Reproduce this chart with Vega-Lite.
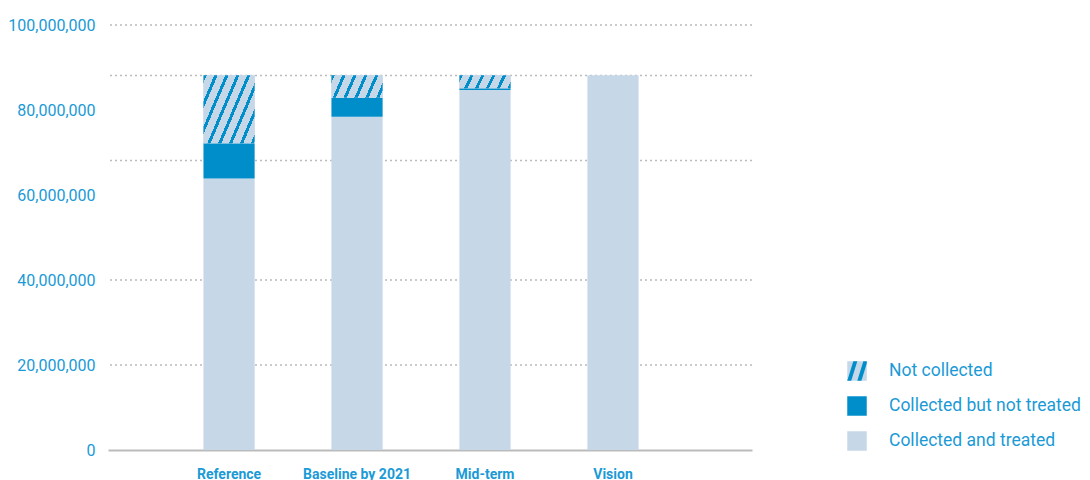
{
  "$schema": "https://vega.github.io/schema/vega-lite/v6.json",
  "width": 644,
  "height": 425,
  "autosize": "none",
  "padding": {"left": 108, "top": 25, "right": 338, "bottom": 30},
  "config": {
    "view": {"stroke": null},
    "font": "Roboto",
    "axisY": {"labelColor": "#1b9ad6", "labelFontSize": 16, "domain": false, "ticks": false, "grid": false, "labelPadding": 13, "tickCount": 5, "format": ",d", "labelFont": "Roboto"},
    "axisX": {"labelColor": "#1b9ad6", "labelFontSize": 14, "labelFontWeight": "bold", "domainColor": "#bbbbbb", "domainWidth": 2, "ticks": false, "labelPadding": 17, "labelAngle": 0, "grid": false, "labelFont": "Roboto"},
    "legend": {"orient": "none", "legendX": 739, "legendY": 336, "symbolType": "square", "symbolSize": 380, "labelFontSize": 17.5, "labelColor": "#1b9ad6", "labelOffset": 22, "rowPadding": 15, "symbolStrokeWidth": 0, "labelFont": "Roboto", "labelLimit": 400}
  },
  "datasets": {
    "bars": [
      {"category": "Reference", "segment": "Collected and treated", "value": 63900000},
      {"category": "Reference", "segment": "Collected but not treated", "value": 8300000},
      {"category": "Reference", "segment": "Not collected", "value": 16000000},
      {"category": "Baseline by 2021", "segment": "Collected and treated", "value": 78400000},
      {"category": "Baseline by 2021", "segment": "Collected but not treated", "value": 4500000},
      {"category": "Baseline by 2021", "segment": "Not collected", "value": 5300000},
      {"category": "Mid-term", "segment": "Collected and treated", "value": 84700000},
      {"category": "Mid-term", "segment": "Collected but not treated", "value": 400000},
      {"category": "Mid-term", "segment": "Not collected", "value": 3100000},
      {"category": "Vision", "segment": "Collected and treated", "value": 88200000}
    ],
    "grid": [
      {"value": 20000000},
      {"value": 40000000},
      {"value": 68100000},
      {"value": 88100000},
      {"value": 100000000}
    ]
  },
  "layer": [
    {
      "data": {"name": "grid"},
      "mark": {"type": "rule", "color": "#bbbbbb", "strokeDash": [2, 3], "strokeWidth": 1.5},
      "encoding": {
        "y": {"field": "value", "type": "quantitative", "title": null, "scale": {"domain": [0, 100000000], "nice": false}}
      }
    },
    {
      "data": {"name": "bars"},
      "mark": {"type": "bar"},
      "encoding": {
        "x": {"field": "category", "type": "nominal", "title": null, "scale": {"domain": ["Reference", "Baseline by 2021", "Mid-term", "Vision"], "paddingInner": 0.6, "paddingOuter": 0.816, "align": 0.457}},
        "y": {"field": "value", "type": "quantitative", "stack": "zero", "title": null, "scale": {"domain": [0, 100000000], "nice": false}},
        "color": {"field": "segment", "type": "nominal", "title": null,
          "scale": {"domain": ["Not collected", "Collected but not treated", "Collected and treated"], "range": ["#c6d7e8", "#008ecb", "#c6d7e8"]}},
        "order": {"field": "segment", "sort": "ascending"}
      }
    },
    {
      "data": {"name": "bars"},
      "mark": {"type": "point", "filled": true, "opacity": 0, "color": "#008ecb"},
      "encoding": {
        "x": {"field": "category", "type": "nominal", "title": null, "scale": {"domain": ["Reference", "Baseline by 2021", "Mid-term", "Vision"]}},
        "y": {"field": "value", "type": "quantitative", "title": null, "scale": {"domain": [0, 100000000], "nice": false}},
        "shape": {"field": "segment", "type": "nominal", "title": null,
          "scale": {"domain": ["Not collected", "_a", "_b"], "range": ["M-1,1 L-0.59,1 L0.03,-1 L-0.38,-1 Z M0.03,1 L0.45,1 L1,-0.77 L1,-1 L0.65,-1 Z", "M0,0", "M0,0"]},
          "legend": {"labelExpr": "''", "labelOpacity": 0, "symbolOpacity": 1, "symbolFillColor": "#008ecb", "symbolStrokeWidth": 0}}
      }
    },
    {
      "data": {"name": "bars"},
      "transform": [
        {"stack": "value", "groupby": ["category"], "sort": [{"field": "segment", "order": "ascending"}], "as": ["v0", "v1"]},
        {"filter": {"field": "segment", "equal": "Not collected"}},
        {"filter": {"field": "category", "equal": "Reference"}}
      ],
      "mark": {"type": "bar", "fill": {"gradient": "linear", "x1": 0, "y1": 0, "x2": 1.186, "y2": 0.670, "stops": [
        {"offset": 0, "color": "#008ecb"}, {"offset": 0.041, "color": "#008ecb"}, {"offset": 0.041, "color": "#c6d7e8"}, {"offset": 0.136, "color": "#c6d7e8"},
        {"offset": 0.136, "color": "#008ecb"}, {"offset": 0.177, "color": "#008ecb"}, {"offset": 0.177, "color": "#c6d7e8"}, {"offset": 0.272, "color": "#c6d7e8"},
        {"offset": 0.272, "color": "#008ecb"}, {"offset": 0.313, "color": "#008ecb"}, {"offset": 0.313, "color": "#c6d7e8"}, {"offset": 0.409, "color": "#c6d7e8"},
        {"offset": 0.409, "color": "#008ecb"}, {"offset": 0.45, "color": "#008ecb"}, {"offset": 0.45, "color": "#c6d7e8"}, {"offset": 0.545, "color": "#c6d7e8"},
        {"offset": 0.545, "color": "#008ecb"}, {"offset": 0.586, "color": "#008ecb"}, {"offset": 0.586, "color": "#c6d7e8"}, {"offset": 0.681, "color": "#c6d7e8"},
        {"offset": 0.681, "color": "#008ecb"}, {"offset": 0.722, "color": "#008ecb"}, {"offset": 0.722, "color": "#c6d7e8"}, {"offset": 0.817, "color": "#c6d7e8"},
        {"offset": 0.817, "color": "#008ecb"}, {"offset": 0.858, "color": "#008ecb"}, {"offset": 0.858, "color": "#c6d7e8"}, {"offset": 0.953, "color": "#c6d7e8"},
        {"offset": 0.953, "color": "#008ecb"}, {"offset": 0.994, "color": "#008ecb"}, {"offset": 0.994, "color": "#c6d7e8"}, {"offset": 1, "color": "#c6d7e8"}]}},
      "encoding": {
        "x": {"field": "category", "type": "nominal", "title": null, "scale": {"domain": ["Reference", "Baseline by 2021", "Mid-term", "Vision"]}},
        "y": {"field": "v1", "type": "quantitative", "title": null, "scale": {"domain": [0, 100000000], "nice": false}},
        "y2": {"field": "v0"}
      }
    },
    {
      "data": {"name": "bars"},
      "transform": [
        {"stack": "value", "groupby": ["category"], "sort": [{"field": "segment", "order": "ascending"}], "as": ["v0", "v1"]},
        {"filter": {"field": "segment", "equal": "Not collected"}},
        {"filter": {"field": "category", "equal": "Baseline by 2021"}}
      ],
      "mark": {"type": "bar", "fill": {"gradient": "linear", "x1": 0, "y1": 0, "x2": 1.150, "y2": 0.2197, "stops": [
        {"offset": 0, "color": "#008ecb"}, {"offset": 0.054, "color": "#008ecb"}, {"offset": 0.054, "color": "#c6d7e8"}, {"offset": 0.179, "color": "#c6d7e8"},
        {"offset": 0.179, "color": "#008ecb"}, {"offset": 0.233, "color": "#008ecb"}, {"offset": 0.233, "color": "#c6d7e8"}, {"offset": 0.358, "color": "#c6d7e8"},
        {"offset": 0.358, "color": "#008ecb"}, {"offset": 0.412, "color": "#008ecb"}, {"offset": 0.412, "color": "#c6d7e8"}, {"offset": 0.537, "color": "#c6d7e8"},
        {"offset": 0.537, "color": "#008ecb"}, {"offset": 0.591, "color": "#008ecb"}, {"offset": 0.591, "color": "#c6d7e8"}, {"offset": 0.716, "color": "#c6d7e8"},
        {"offset": 0.716, "color": "#008ecb"}, {"offset": 0.770, "color": "#008ecb"}, {"offset": 0.770, "color": "#c6d7e8"}, {"offset": 0.894, "color": "#c6d7e8"},
        {"offset": 0.894, "color": "#008ecb"}, {"offset": 0.948, "color": "#008ecb"}, {"offset": 0.948, "color": "#c6d7e8"}, {"offset": 1, "color": "#c6d7e8"}]}},
      "encoding": {
        "x": {"field": "category", "type": "nominal", "title": null, "scale": {"domain": ["Reference", "Baseline by 2021", "Mid-term", "Vision"]}},
        "y": {"field": "v1", "type": "quantitative", "title": null, "scale": {"domain": [0, 100000000], "nice": false}},
        "y2": {"field": "v0"}
      }
    },
    {
      "data": {"name": "bars"},
      "transform": [
        {"stack": "value", "groupby": ["category"], "sort": [{"field": "segment", "order": "ascending"}], "as": ["v0", "v1"]},
        {"filter": {"field": "segment", "equal": "Not collected"}},
        {"filter": {"field": "category", "equal": "Mid-term"}}
      ],
      "mark": {"type": "bar", "fill": {"gradient": "linear", "x1": 0, "y1": 0, "x2": 1.107, "y2": 0.138, "stops": [
        {"offset": 0, "color": "#008ecb"}, {"offset": 0.057, "color": "#008ecb"}, {"offset": 0.057, "color": "#c6d7e8"}, {"offset": 0.190, "color": "#c6d7e8"},
        {"offset": 0.190, "color": "#008ecb"}, {"offset": 0.247, "color": "#008ecb"}, {"offset": 0.247, "color": "#c6d7e8"}, {"offset": 0.379, "color": "#c6d7e8"},
        {"offset": 0.379, "color": "#008ecb"}, {"offset": 0.436, "color": "#008ecb"}, {"offset": 0.436, "color": "#c6d7e8"}, {"offset": 0.569, "color": "#c6d7e8"},
        {"offset": 0.569, "color": "#008ecb"}, {"offset": 0.626, "color": "#008ecb"}, {"offset": 0.626, "color": "#c6d7e8"}, {"offset": 0.758, "color": "#c6d7e8"},
        {"offset": 0.758, "color": "#008ecb"}, {"offset": 0.815, "color": "#008ecb"}, {"offset": 0.815, "color": "#c6d7e8"}, {"offset": 0.948, "color": "#c6d7e8"},
        {"offset": 0.948, "color": "#008ecb"}, {"offset": 1, "color": "#008ecb"}]}},
      "encoding": {
        "x": {"field": "category", "type": "nominal", "title": null, "scale": {"domain": ["Reference", "Baseline by 2021", "Mid-term", "Vision"]}},
        "y": {"field": "v1", "type": "quantitative", "title": null, "scale": {"domain": [0, 100000000], "nice": false}},
        "y2": {"field": "v0"}
      }
    }
  ]
}
